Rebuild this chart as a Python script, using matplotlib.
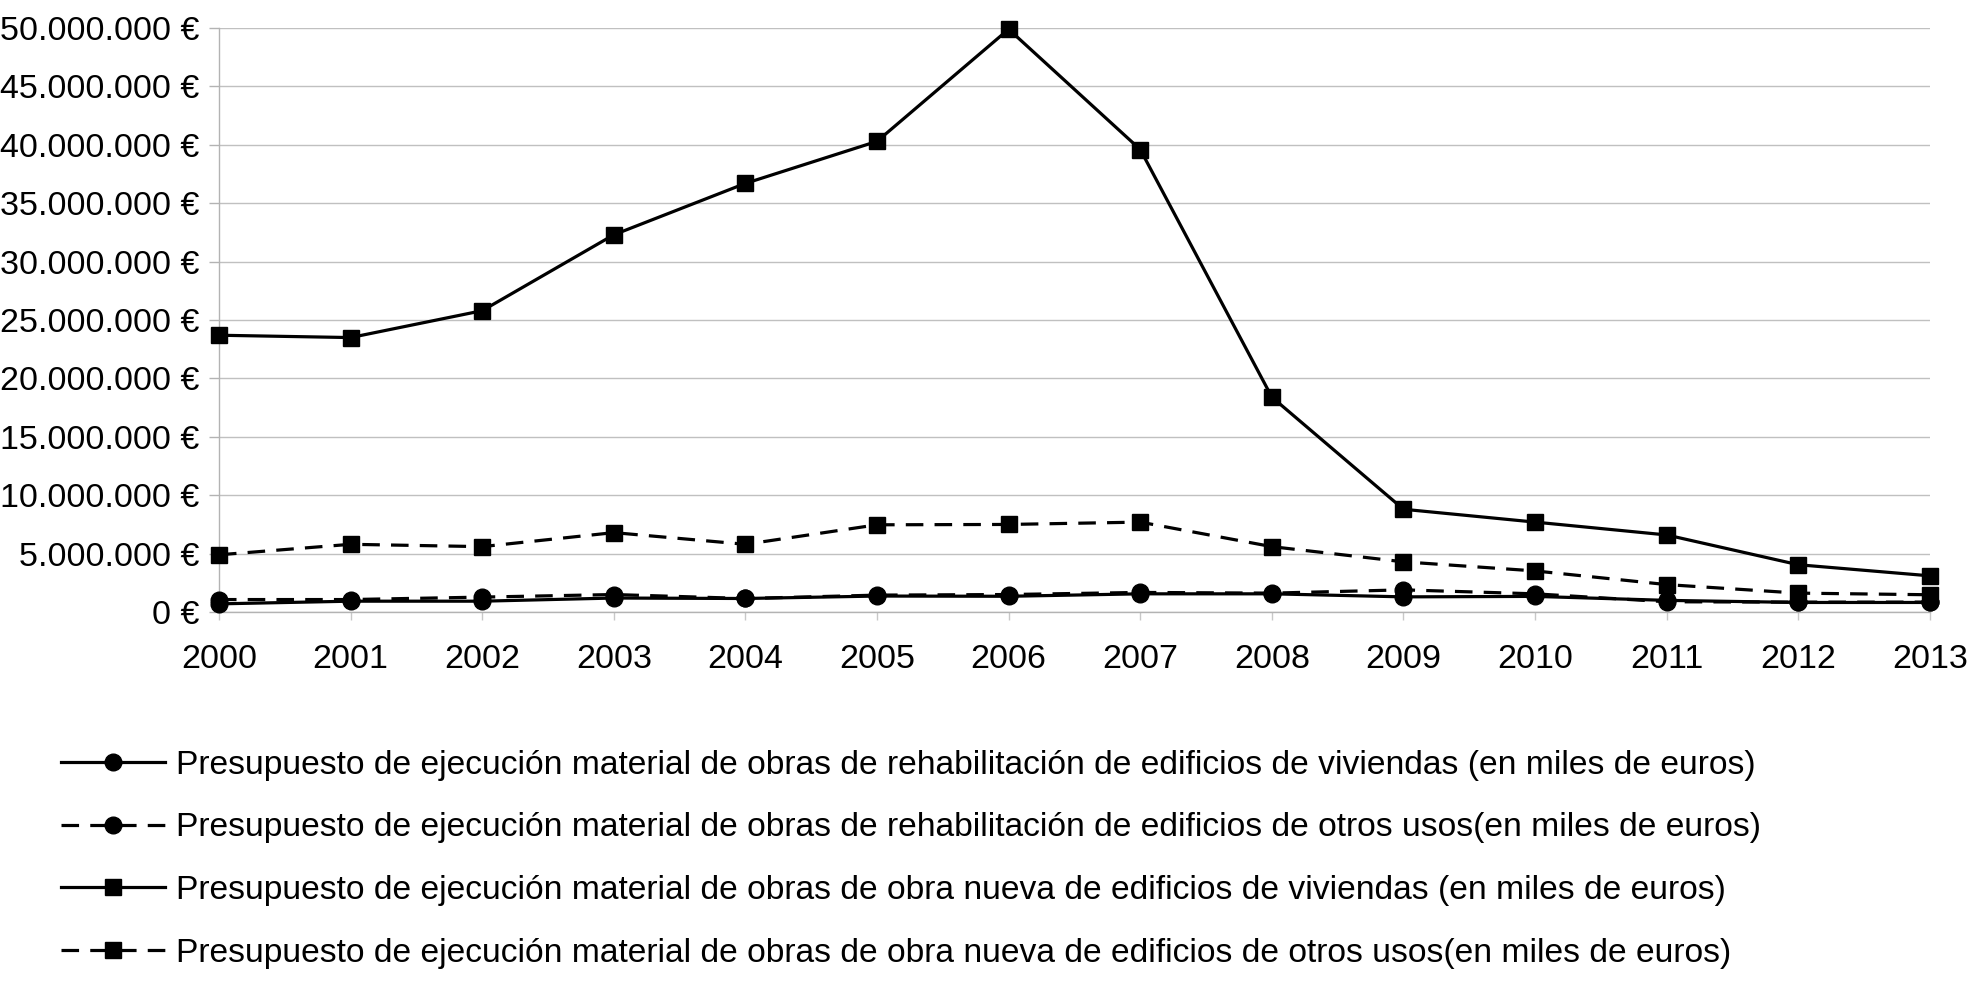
import matplotlib
matplotlib.use("Agg")
import matplotlib.pyplot as plt
from matplotlib.ticker import FuncFormatter, MultipleLocator

plt.rcParams['font.family'] = ['Liberation Sans', 'DejaVu Sans']

years = [2000, 2001, 2002, 2003, 2004, 2005, 2006, 2007, 2008, 2009, 2010, 2011, 2012, 2013]

rehab_viviendas = [700000, 930000, 930000, 1200000, 1160000, 1370000, 1350000, 1560000,
                   1560000, 1300000, 1340000, 1000000, 820000, 820000]
rehab_otros = [1070000, 1070000, 1280000, 1500000, 1160000, 1450000, 1500000, 1680000,
               1620000, 1900000, 1560000, 880000, 850000, 850000]
nueva_viviendas = [23700000, 23500000, 25800000, 32300000, 36700000, 40300000, 49900000,
                   39600000, 18400000, 8800000, 7700000, 6600000, 4050000, 3100000]
nueva_otros = [4900000, 5800000, 5600000, 6800000, 5800000, 7470000, 7500000, 7700000,
               5600000, 4300000, 3520000, 2350000, 1620000, 1480000]

labels = [
    "Presupuesto de ejecución material de obras de rehabilitación de edificios de viviendas (en miles de euros)",
    "Presupuesto de ejecución material de obras de rehabilitación de edificios de otros usos(en miles de euros)",
    "Presupuesto de ejecución material de obras de obra nueva de edificios de viviendas (en miles de euros)",
    "Presupuesto de ejecución material de obras de obra nueva de edificios de otros usos(en miles de euros)",
]

fig = plt.figure(figsize=(19.76, 9.84), dpi=100)
ax = fig.add_axes([0.1108, 0.378, 0.8659, 0.5935])

lw = 2.3
dash = (5.5, 3.5)
ms_c = 12
ms_s = 11.5
series = [
    (rehab_viviendas, '-', 'o', ms_c),
    (rehab_otros, '--', 'o', ms_c),
    (nueva_viviendas, '-', 's', ms_s),
    (nueva_otros, '--', 's', ms_s),
]
handles = []
for (vals, ls, mk, ms), lab in zip(series, labels):
    h, = ax.plot(years, vals, color='black', linestyle=ls, linewidth=lw, marker=mk,
                 markersize=ms, markerfacecolor='black', markeredgecolor='black',
                 label=lab, clip_on=False, zorder=3)
    if ls == '--':
        h.set_dashes(dash)
    handles.append(h)

ax.set_xlim(2000, 2013)
ax.set_ylim(0, 50000000)
ax.yaxis.set_major_locator(MultipleLocator(5000000))
ax.set_xticks(years)

def fmt(v, pos):
    s = f"{int(round(v)):,}".replace(",", ".")
    return s + " €"
ax.yaxis.set_major_formatter(FuncFormatter(fmt))

ax.grid(axis='y', color='#c0c0c0', linewidth=1.0)
ax.set_axisbelow(True)
for sp in ['top', 'right']:
    ax.spines[sp].set_visible(False)
ax.spines['left'].set_color('#b3b3b3')
ax.spines['bottom'].set_color('#b3b3b3')
ax.spines['left'].set_linewidth(1.0)
ax.spines['bottom'].set_linewidth(1.0)

ax.tick_params(axis='y', direction='out', length=7, width=1, color='#b3b3b3',
               labelsize=24.5, pad=7)
ax.tick_params(axis='x', direction='out', length=6, width=1, color='#c8c8c8',
               labelsize=24.5, pad=17)

fig.legend(handles=handles, labels=labels, loc='upper left',
           bbox_to_anchor=(0.031, 0.238), frameon=False, fontsize=24.2,
           handlelength=3.1, handletextpad=0.3, labelspacing=0.94,
           borderaxespad=0, borderpad=0)

fig.savefig("out.png", dpi=100, facecolor='white')
